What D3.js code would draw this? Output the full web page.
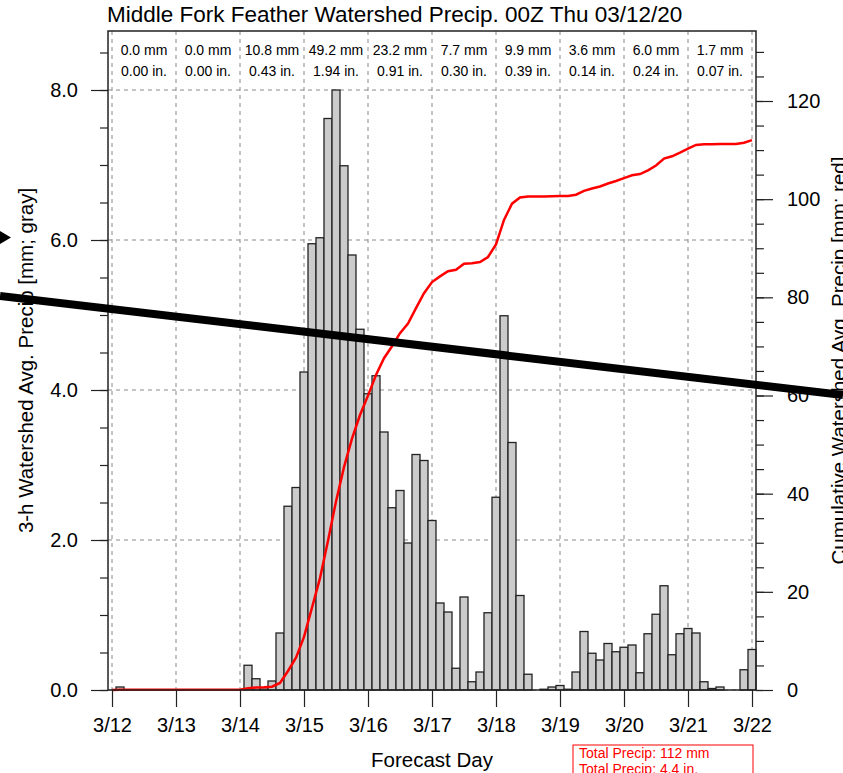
<!DOCTYPE html>
<html>
<head>
<meta charset="utf-8">
<script src="https://cdn.jsdelivr.net/npm/d3@7"></script>
<style>
  body { margin: 0; background: #fff; }
  svg { display: block; font-family: "Liberation Sans", Arial, Helvetica, sans-serif; }
</style>
</head>
<body>
<svg id="chart" width="843" height="773"></svg>
<script>
// 3-h watershed avg precip (mm), valid 03Z 3/12 .. 00Z 3/22, 8 per day
const precip3h = [
  0.04, 0, 0, 0, 0, 0, 0, 0,
  0, 0, 0, 0, 0, 0, 0, 0,
  0.33, 0.15, 0.03, 0.12, 0.76, 2.45, 2.70, 4.24,
  5.95, 6.03, 7.62, 8.00, 6.99, 5.80, 4.81, 3.95,
  4.19, 3.44, 2.43, 2.66, 1.96, 3.14, 3.06, 2.26,
  1.16, 1.04, 0.29, 1.24, 0.11, 0.24, 1.03, 2.57,
  4.99, 3.30, 1.26, 0.21, 0.00, 0.01, 0.04, 0.06,
  0.01, 0.24, 0.78, 0.49, 0.40, 0.62, 0.51, 0.57,
  0.60, 0.23, 0.75, 1.01, 1.39, 0.47, 0.75, 0.82,
  0.76, 0.11, 0.02, 0.04, 0.00, 0.00, 0.27, 0.54
];

// cumulative precip (mm), 00Z 3/12 then every 3 h
const cumPrecip = [
  0,
  0.04, 0.04, 0.04, 0.04, 0.04, 0.04, 0.04, 0.04,
  0.04, 0.04, 0.04, 0.04, 0.04, 0.04, 0.04, 0.04,
  0.37, 0.52, 0.55, 0.67, 1.43, 3.88, 6.58, 10.82,
  16.77, 22.80, 30.42, 38.42, 45.41, 51.21, 56.02, 59.97,
  64.16, 67.60, 70.03, 72.69, 74.65, 77.79, 80.85, 83.11,
  84.27, 85.31, 85.60, 86.84, 86.95, 87.19, 88.22, 90.79,
  95.78, 99.08, 100.34, 100.55, 100.55, 100.56, 100.60, 100.66,
  100.67, 100.91, 101.69, 102.18, 102.58, 103.20, 103.71, 104.28,
  104.88, 105.11, 105.86, 106.87, 108.26, 108.73, 109.48, 110.30,
  111.06, 111.17, 111.19, 111.23, 111.23, 111.23, 111.50, 112.04
];

const dayLabels = ["3/12", "3/13", "3/14", "3/15", "3/16", "3/17", "3/18", "3/19", "3/20", "3/21", "3/22"];
const dayTotalMm = [0.0, 0.0, 10.8, 49.2, 23.2, 7.7, 9.9, 3.6, 6.0, 1.7];
const dayTotalIn = [0.00, 0.00, 0.43, 1.94, 0.91, 0.30, 0.39, 0.14, 0.24, 0.07];
const totalMm = 112;
const totalIn = 4.4;

const svg = d3.select("#chart");

const pLeft = 108, pRight = 756, pTop = 31, pBottom = 690;

// hours since 00Z 3/12
const x = d3.scaleLinear().domain([-1.5, 241.5]).range([pLeft, pRight]);
const yL = d3.scaleLinear().domain([0, 8]).range([pBottom, 90]);
const yR = d3.scaleLinear().domain([0, 120]).range([pBottom, 101]);

const dayHours = d3.range(0, 241, 24);

// grid
svg.append("g").selectAll("line").data(dayHours).join("line")
  .attr("x1", d => x(d)).attr("x2", d => x(d))
  .attr("y1", pTop).attr("y2", pBottom)
  .attr("stroke", "#8a8a8a").attr("stroke-width", 1).attr("stroke-dasharray", "4,4");

svg.append("g").selectAll("line").data([0, 2, 4, 6, 8]).join("line")
  .attr("x1", pLeft).attr("x2", pRight)
  .attr("y1", d => yL(d)).attr("y2", d => yL(d))
  .attr("stroke", "#8a8a8a").attr("stroke-width", 1).attr("stroke-dasharray", "4,4");

// bars
svg.append("g").selectAll("rect").data(precip3h).join("rect")
  .attr("x", (d, i) => x(3 * (i + 1) - 1.5))
  .attr("width", x(3) - x(0))
  .attr("y", d => yL(d))
  .attr("height", d => yL(0) - yL(d))
  .attr("fill", "#cbcbcb")
  .attr("stroke", "#222")
  .attr("stroke-width", 1.3);

// cumulative line
const line = d3.line().x((d, i) => x(3 * i)).y(d => yR(d));
svg.append("path").datum(cumPrecip)
  .attr("d", line)
  .attr("fill", "none")
  .attr("stroke", "#ff0000")
  .attr("stroke-width", 2.5);

// frame
svg.append("rect")
  .attr("x", pLeft).attr("y", pTop)
  .attr("width", pRight - pLeft).attr("height", pBottom - pTop)
  .attr("fill", "none").attr("stroke", "#222").attr("stroke-width", 1.5);

function styleAxis(g) {
  g.select(".domain").remove();
  g.attr("font-family", null).attr("font-size", 20);
  g.selectAll(".tick line").attr("stroke", "#222").attr("stroke-width", 1.2);
  g.selectAll(".tick text").attr("fill", "#000");
}

// left axis
svg.append("g").attr("transform", `translate(${pLeft},0)`)
  .call(d3.axisLeft(yL).tickValues(d3.range(0, 8.51, 0.5)).tickSize(8).tickFormat(""))
  .call(styleAxis);
svg.append("g").attr("transform", `translate(${pLeft},0)`)
  .call(d3.axisLeft(yL).tickValues([0, 2, 4, 6, 8]).tickSize(17).tickPadding(13).tickFormat(d3.format(".1f")))
  .call(styleAxis);

// right axis
svg.append("g").attr("transform", `translate(${pRight},0)`)
  .call(d3.axisRight(yR).tickValues(d3.range(0, 131, 5)).tickSize(8).tickFormat(""))
  .call(styleAxis);
svg.append("g").attr("transform", `translate(${pRight},0)`)
  .call(d3.axisRight(yR).tickValues(d3.range(0, 121, 20)).tickSize(17).tickPadding(14))
  .call(styleAxis);

// bottom axis
svg.append("g").attr("transform", `translate(0,${pBottom})`)
  .call(d3.axisBottom(x).tickValues(dayHours).tickSize(17).tickPadding(11).tickFormat((d, i) => dayLabels[i]))
  .call(styleAxis);

// daily totals across the top
const totals = svg.append("g").attr("font-size", 14).attr("text-anchor", "middle");
totals.selectAll("text.mm").data(dayTotalMm).join("text").attr("class", "mm")
  .attr("x", (d, i) => x(24 * i + 12)).attr("y", 55)
  .text(d => d.toFixed(1) + " mm");
totals.selectAll("text.in").data(dayTotalIn).join("text").attr("class", "in")
  .attr("x", (d, i) => x(24 * i + 12)).attr("y", 76)
  .text(d => d.toFixed(2) + " in.");

// titles
svg.append("text").attr("x", 107).attr("y", 22).attr("font-size", 22.5)
  .text("Middle Fork Feather Watershed Precip. 00Z Thu 03/12/20");

svg.append("text").attr("transform", `translate(33,${(pTop + pBottom) / 2}) rotate(-90)`)
  .attr("text-anchor", "middle").attr("font-size", 20.5)
  .text("3-h Watershed Avg. Precip [mm; gray]");

svg.append("text").attr("transform", `translate(846,${(pTop + pBottom) / 2}) rotate(-90)`)
  .attr("text-anchor", "middle").attr("font-size", 20.5)
  .text("Cumulative Watershed Avg. Precip [mm; red]");

svg.append("text").attr("x", (pLeft + pRight) / 2).attr("y", 767)
  .attr("text-anchor", "middle").attr("font-size", 20.5)
  .text("Forecast Day");

// total box
svg.append("rect").attr("x", 573).attr("y", 745).attr("width", 180).attr("height", 50)
  .attr("fill", "#fff").attr("stroke", "#ff0000").attr("stroke-width", 1);
svg.append("text").attr("x", 579).attr("y", 758).attr("font-size", 14).attr("fill", "#ff0000")
  .text("Total Precip: " + totalMm + " mm");
svg.append("text").attr("x", 579).attr("y", 774).attr("font-size", 14).attr("fill", "#ff0000")
  .text("Total Precip: " + totalIn + " in.");

// overlay marks drawn on the picture
svg.append("line").attr("x1", 0).attr("y1", 296).attr("x2", 843).attr("y2", 395)
  .attr("stroke", "#000").attr("stroke-width", 8);
svg.append("path").attr("d", "M0,231L11,237.5L0,244Z").attr("fill", "#000");
</script>
</body>
</html>
